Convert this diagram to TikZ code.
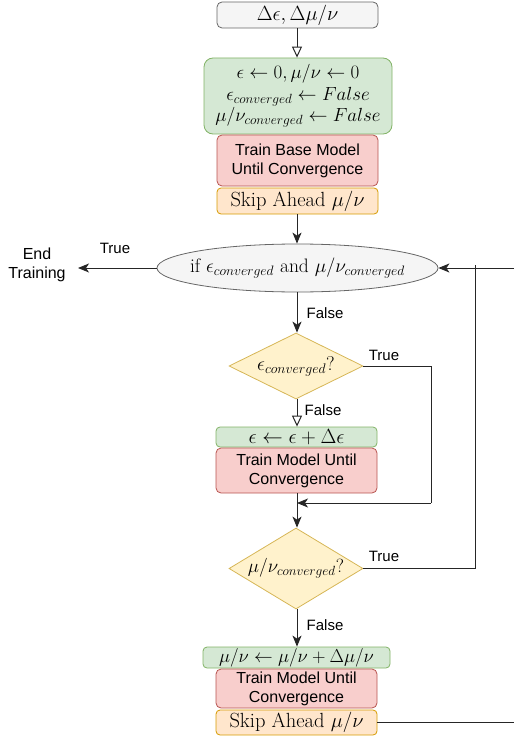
\RequirePackage{fix-cm}
\documentclass[tikz,border=0pt]{standalone}
\usepackage{fontspec}
\setsansfont{Liberation Sans}
\usetikzlibrary{shapes.geometric,arrows.meta}
\definecolor{grayF}{HTML}{F5F5F5}\definecolor{grayD}{HTML}{666666}
\definecolor{greenF}{HTML}{D5E8D4}\definecolor{greenD}{HTML}{82B366}
\definecolor{redF}{HTML}{F8CECC}\definecolor{redD}{HTML}{B85450}
\definecolor{orangeF}{HTML}{FFE6CC}\definecolor{orangeD}{HTML}{D79B00}
\definecolor{yellowF}{HTML}{FFF2CC}\definecolor{yellowD}{HTML}{D6B656}
\tikzset{
  box/.style={rectangle, rounded corners=5pt, draw, line width=0.8pt, inner sep=0pt, align=center},
  mtext/.style={font=\fontsize{20.5}{20}\selectfont},
  stext/.style={font=\sffamily\fontsize{16}{19}\selectfont},
  lbl/.style={font=\sffamily\fontsize{15}{18}\selectfont, inner sep=0pt},
  grayb/.style={box, fill=grayF, draw=grayD, mtext},
  greenb/.style={box, fill=greenF, draw=greenD, mtext},
  redb/.style={box, fill=redF, draw=redD, stext},
  orangeb/.style={box, fill=orangeF, draw=orangeD, mtext},
  decis/.style={diamond, draw=yellowD, fill=yellowF, line width=0.8pt, inner sep=0pt, mtext},
  conn/.style={line width=1pt, draw=black!85},
  arr/.style={conn, -{Stealth[length=11pt,width=9pt,inset=3pt]}},
  arro/.style={conn, -{Triangle[open,length=11pt,width=10pt,fill=white]}},
}
\begin{document}
\begin{tikzpicture}[x=1pt,y=-1pt]
\useasboundingbox (0,0) rectangle (514,738);
% nodes
\node[grayb, minimum width=161, minimum height=26] (in) at (297.5,15) {$\Delta\epsilon, \Delta\mu/\nu$};
\node[greenb, rounded corners=9pt, minimum width=188, minimum height=76, font=\fontsize{19}{21.5}\selectfont] (g1) at (298,96)
  {$\epsilon \leftarrow 0, \mu/\nu \leftarrow 0$\\ $\epsilon_{converged} \leftarrow False$\\ $\mu/\nu_{converged} \leftarrow False$};
\node[redb, minimum width=161, minimum height=51] (r1) at (297.5,160.5) {Train Base Model\\Until Convergence};
\node[orangeb, rounded corners=4pt, minimum width=161, minimum height=26] (o1) at (297.5,201) {Skip Ahead $\mu/\nu$};
\node[ellipse, draw=grayD, fill=grayF, line width=0.8pt, inner xsep=-14pt, inner ysep=0pt, minimum width=281, minimum height=48,
  font=\fontsize{19.5}{20}\selectfont] (ell) at (297.5,268) {if $\epsilon_{converged}$ and $\mu/\nu_{converged}$};
\node[stext, align=center, inner sep=0pt] (endt) at (37,265) {End\\Training};
\node[decis, shape aspect=2.03, minimum width=134, minimum height=66, font=\fontsize{19.8}{20}\selectfont] (d1) at (296,366) {$\epsilon_{converged}$?};
\node[greenb, rounded corners=4pt, minimum width=161, minimum height=20] (g2) at (296.5,437) {$\epsilon \leftarrow \epsilon + \Delta\epsilon$};
\node[redb, minimum width=161, minimum height=45] (r2) at (296.5,470.5) {Train Model Until\\Convergence};
\node[decis, shape aspect=1.65, minimum width=134, minimum height=81, font=\fontsize{19}{20}\selectfont] (d2) at (296,568.5) {$\mu/\nu_{converged}$?};
\node[greenb, rounded corners=4pt, minimum width=187, minimum height=21, font=\fontsize{18.7}{20}\selectfont] (g3) at (296.5,657.5) {$\mu/\nu \leftarrow \mu/\nu + \Delta\mu/\nu$};
\node[redb, minimum width=161, minimum height=39] (r3) at (296.5,688.5) {Train Model Until\\Convergence};
\node[orangeb, rounded corners=4pt, minimum width=161, minimum height=25] (o3) at (296.5,722.5) {Skip Ahead $\mu/\nu$};
% coordinates
\coordinate (endtip) at (78,268);
\coordinate (c1) at (431,503);
\coordinate (j1) at (297,503);
\coordinate (c2) at (475,265);
\coordinate (rin) at (514,268);
\coordinate (rout) at (514,722.5);
% connectors
\draw[arro] (in.south -| 297,0) -- (g1.north -| 297,0);
\draw[arr] (o1.south -| 297,0) -- (ell.north -| 297,0);
\draw[arr] (ell.west) -- (endtip);
\draw[arr] (ell.south -| 297,0) -- (d1.north -| 297,0);
\draw[conn] (d1.east) -| (c1);
\draw[arr] (c1) -- (j1);
\draw[arro] (d1.south -| 297,0) -- (g2.north -| 297,0);
\draw[arr] (r2.south -| 297,0) -- (d2.north -| 297,0);
\draw[conn] (d2.east) -| (c2);
\draw[arr] (rin) -- (ell.east);
\draw[arr] (d2.south -| 297,0) -- (g3.north -| 297,0);
\draw[conn] (o3.east) -- (rout);
% labels
\node[lbl] (t1) at (115,248) {True};
\node[lbl] (f1) at (325,313) {False};
\node[lbl] (t2) at (384,355) {True};
\node[lbl] (f2) at (323,410) {False};
\node[lbl] (t3) at (384,556) {True};
\node[lbl] (f3) at (325,625) {False};
\end{tikzpicture}
\end{document}
